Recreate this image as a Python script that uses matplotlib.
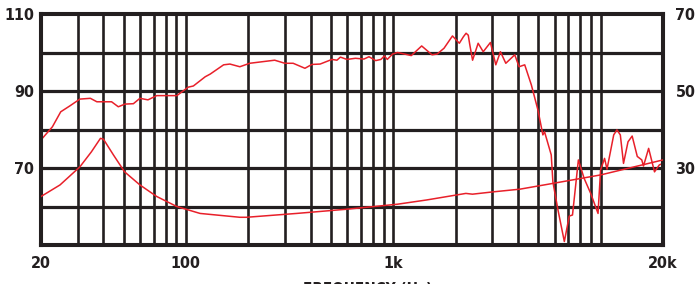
import matplotlib
matplotlib.use('Agg')
import matplotlib.pyplot as plt
import numpy as np

# SPL response (left axis, dB)
spl_freq = [20, 22.7, 24.9, 27.5, 30.8, 34.6, 37.2, 43.8, 47.2, 50.8, 55.8, 60, 65.6,
            72.3, 90.4, 102.6, 108.6, 123.9, 131, 152, 163, 182, 203, 268, 300, 329,
            375, 405, 444, 506, 535, 556, 598, 657, 722, 764, 823, 872, 906, 936, 992,
            1050, 1222, 1371, 1538, 1628, 1757, 1930, 2083, 2180, 2245, 2300, 2340, 2413,
            2567, 2716, 2942, 3123, 3288, 3490, 3855, 4044, 4306, 4634, 4985, 5268,
            5367, 5781, 5888, 6230, 6686, 7060, 7320, 7815, 8330, 8960, 9720, 10000,
            10450, 10740, 11570, 11990, 12450, 12900, 13560, 14200, 15030, 15800,
            16100, 17050, 18200, 19200, 20000]
spl_db = [77.3, 80.7, 84.6, 86.1, 87.9, 88.1, 87.2, 87.2, 85.9, 86.6, 86.7, 88.1, 87.7,
          88.8, 88.8, 91, 91.3, 93.7, 94.4, 96.8, 97, 96.3, 97.2, 98, 97.2, 97.2,
          95.9, 96.9, 97, 98.2, 98, 98.8, 98.2, 98.5, 98.3, 98.9, 97.9, 98.2, 99.1, 98.2, 99.6,
          100, 99.2, 101.7, 99.4, 99.6, 101.1, 104.3, 102.4, 104.1, 105, 104.5, 102, 98,
          102.4, 100.2, 102.6, 96.8, 100.2, 97.2, 99.4, 96.3, 96.8, 91.6, 85.1, 78.6,
          79.4, 73.4, 66.4, 59.1, 50.9, 57.5, 57.8, 72.1, 67.3, 63.4, 58.2, 69.5,
          72.5, 69.7, 78.6, 79.9, 78.6, 71.2, 76.8, 78.3, 73, 72.1,
          70.5, 75.1, 69, 70.8, 71.2]

# impedance (right axis, ohm)
imp_freq = [20, 24.7, 30.8, 35, 38.7, 40, 44.7, 50.6, 60, 72.3, 90.3, 117, 182, 196,
            342, 598, 1050, 1450, 2240, 2410, 3030, 4080, 5888, 10000, 20000]
imp_ohm = [22.6, 25.6, 30.3, 34.2, 37.7, 37.5, 33.4, 29, 25.6, 22.6, 20, 18.2, 17.2, 17.2,
           18.2, 19.3, 20.6, 21.7, 23.4, 23.2, 23.8, 24.5, 26, 28.2, 32.1]

grid_freq = [30, 40, 50, 60, 70, 80, 90, 100, 200, 300, 400, 500, 600, 700, 800, 900,
             1000, 2000, 3000, 4000, 5000, 6000, 7000, 8000, 9000, 10000]
x_ticks = [20, 100, 1000, 20000]
x_labels = ['20', '100', '1k', '20k']
left_ticks = [70, 90, 110]
right_ticks = [30, 50, 70]

ink = '#231f20'
red = '#e8202a'
font = ['DejaVu Sans']

fig = plt.figure(figsize=(6.98, 2.84), dpi=100)
ax = fig.add_axes([41 / 698, 1 - 245 / 284, (663 - 41) / 698, (245 - 14) / 284])
ax.set_xscale('log')
ax.set_xlim(20, 20000)
ax.set_ylim(50, 110)

for f in grid_freq:
    ax.axvline(f, color=ink, lw=1.9, zorder=1)
for y in range(60, 110, 10):
    ax.axhline(y, color=ink, lw=2.3, zorder=1)

ax.plot(spl_freq, spl_db, color=red, lw=1.1, zorder=3)

ax2 = ax.twinx()
ax2.set_ylim(10, 70)
ax2.plot(imp_freq, imp_ohm, color=red, lw=1.1, zorder=3)

ax.set_xticks(x_ticks)
ax.set_xticklabels(x_labels)
ax.xaxis.set_minor_locator(plt.NullLocator())
ax.set_yticks(left_ticks)
ax2.set_yticks(right_ticks)

for a in (ax, ax2):
    a.tick_params(length=0, labelsize=11.5, labelcolor=ink)
    for s in a.spines.values():
        s.set_linewidth(2.9)
        s.set_color(ink)
    for t in a.get_xticklabels() + a.get_yticklabels():
        t.set_family(font)
        t.set_stretch('condensed')
        t.set_weight('bold')
ax.tick_params(axis='x', pad=8)
ax.tick_params(axis='y', pad=5)
ax2.tick_params(axis='y', pad=9)

fig.text(303 / 698, 1 - 282.5 / 284, 'FREQUENCY (Hz)', va='top', ha='left',
         family=font, stretch='condensed', weight='bold', fontsize=11, color=ink)

fig.savefig('out.png', dpi=100)
